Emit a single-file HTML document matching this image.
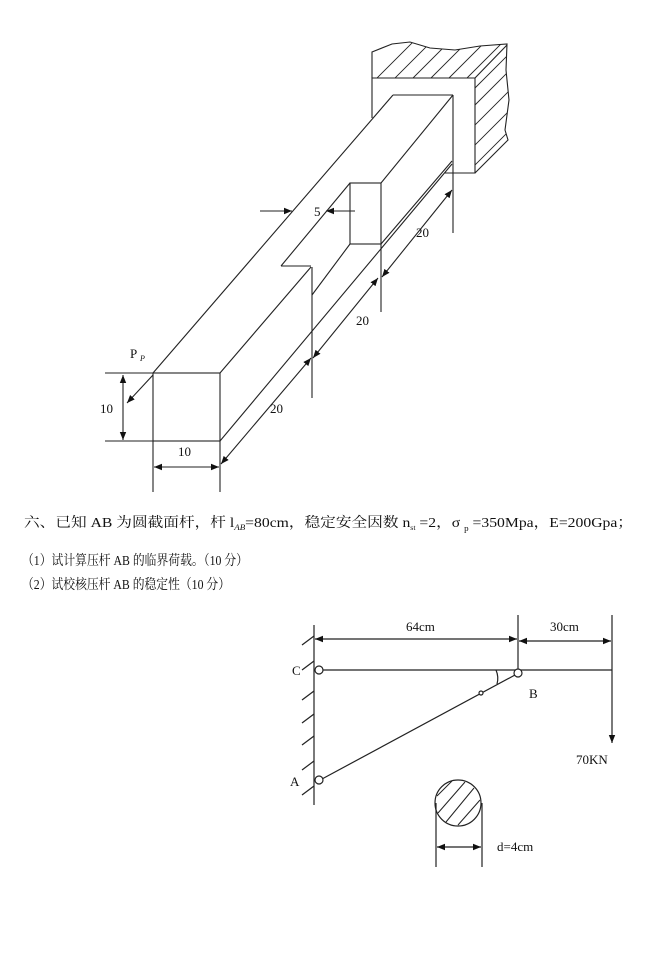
<!DOCTYPE html>
<html><head><meta charset="utf-8"><style>
html,body{margin:0;padding:0;background:#fff;}
svg{display:block;}
text{font-family:"Liberation Serif","Noto Serif CJK SC",serif;fill:#111;}
</style></head><body>
<svg width="647" height="966" viewBox="0 0 647 966" xmlns="http://www.w3.org/2000/svg">
<defs>
<marker id="a" viewBox="0 0 10 10" refX="10" refY="5" markerWidth="8" markerHeight="8" orient="auto-start-reverse" markerUnits="userSpaceOnUse"><path d="M0,1 L10,5 L0,9 z" fill="#111"/></marker>
<clipPath id="c1"><polygon points="372,78 372,52 392,44 410,42 430,48 455,50 480,46 507,44 506,70 509,100 505,130 508,140 475,173 475,78"/></clipPath>
</defs>
<g stroke="#222" stroke-width="1.1" fill="none">
<g clip-path="url(#c1)" stroke-width="0.9">
<line x1="360" y1="95" x2="420" y2="35"/><line x1="378" y1="95" x2="438" y2="35"/><line x1="396" y1="95" x2="456" y2="35"/><line x1="414" y1="95" x2="474" y2="35"/><line x1="432" y1="95" x2="492" y2="35"/><line x1="450" y1="95" x2="510" y2="35"/><line x1="468" y1="95" x2="528" y2="35"/>
<line x1="470" y1="110" x2="520" y2="60"/><line x1="470" y1="130" x2="520" y2="80"/><line x1="470" y1="150" x2="520" y2="100"/><line x1="470" y1="170" x2="520" y2="120"/><line x1="470" y1="190" x2="520" y2="140"/>
</g>
<polyline points="372,118 372,78 475,78 475,173 445,173"/>
<polyline points="372,78 372,52 392,44 410,42 430,48 455,50 480,46 507,44 506,70 509,100 505,130 508,140 475,173"/>
<line x1="475" y1="78" x2="507" y2="45"/>
<rect x="153" y="373" width="67" height="68"/>
<line x1="153" y1="373" x2="393" y2="95"/>
<line x1="393" y1="95" x2="453" y2="95"/>
<line x1="453" y1="95" x2="453" y2="233"/>
<line x1="220" y1="373" x2="311" y2="267"/>
<line x1="311" y1="266" x2="281" y2="266"/>
<line x1="281" y1="266" x2="350" y2="183"/>
<rect x="350" y="183" width="31" height="61"/>
<line x1="381" y1="183" x2="453" y2="95"/>
<line x1="312" y1="267" x2="312" y2="398"/>
<line x1="312" y1="295" x2="350" y2="244"/>
<line x1="381" y1="244" x2="381" y2="312"/>
<line x1="381" y1="244" x2="452" y2="161"/>
<line x1="220" y1="441" x2="452" y2="164"/>
<line x1="153" y1="441" x2="153" y2="492"/><line x1="220" y1="441" x2="220" y2="492"/>
<line x1="105" y1="373" x2="153" y2="373"/><line x1="105" y1="441" x2="153" y2="441"/>
<line x1="123" y1="375" x2="123" y2="440" marker-start="url(#a)" marker-end="url(#a)"/>
<line x1="154" y1="467" x2="219" y2="467" marker-start="url(#a)" marker-end="url(#a)"/>
<line x1="153" y1="375" x2="127" y2="403" marker-end="url(#a)"/>
<line x1="260" y1="211" x2="292" y2="211" marker-end="url(#a)"/>
<line x1="355" y1="211" x2="326" y2="211" marker-end="url(#a)"/>
<line x1="221" y1="464" x2="311" y2="358" marker-start="url(#a)" marker-end="url(#a)"/>
<line x1="313" y1="358" x2="378" y2="278" marker-start="url(#a)" marker-end="url(#a)"/>
<line x1="382" y1="277" x2="452" y2="190" marker-start="url(#a)" marker-end="url(#a)"/>
</g>
<g font-size="13">
<text x="130" y="358">P</text><text x="140" y="361" font-size="8" font-style="italic">P</text>
<text x="100" y="413">10</text>
<text x="178" y="456">10</text>
<text x="314" y="216">5</text>
<text x="270" y="413">20</text>
<text x="356" y="325">20</text>
<text x="416" y="237">20</text>
</g>
<g font-size="14">
<text x="24" y="527" textLength="609" lengthAdjust="spacingAndGlyphs">六、已知 AB 为圆截面杆，杆 l<tspan font-size="8" font-style="italic" dy="3">AB</tspan><tspan dy="-3">=80cm，稳定安全因数 n</tspan><tspan font-size="7" dy="3">st</tspan><tspan dy="-3"> =2，σ </tspan><tspan font-size="8" dy="4">p</tspan><tspan dy="-4"> =350Mpa，E=200Gpa；</tspan></text>
<text x="22" y="565" textLength="226" lengthAdjust="spacingAndGlyphs">（1）试计算压杆 AB 的临界荷载。（10 分）</text>
<text x="22" y="589" textLength="208" lengthAdjust="spacingAndGlyphs">（2）试校核压杆 AB 的稳定性（10 分）</text>
</g>
<g stroke="#222" stroke-width="1.2" fill="none">
<line x1="314" y1="625" x2="314" y2="805"/>
<line x1="302" y1="645" x2="314" y2="636"/><line x1="302" y1="670" x2="314" y2="661"/><line x1="302" y1="700" x2="314" y2="691"/><line x1="302" y1="723" x2="314" y2="714"/><line x1="302" y1="745" x2="314" y2="736"/><line x1="302" y1="770" x2="314" y2="761"/><line x1="302" y1="795" x2="314" y2="786"/>
<line x1="323" y1="670" x2="612" y2="670"/>
<line x1="322" y1="779" x2="515" y2="675"/>
<circle cx="319" cy="670" r="4" fill="#fff"/>
<circle cx="319" cy="780" r="4" fill="#fff"/>
<circle cx="518" cy="673" r="4" fill="#fff"/>
<circle cx="481" cy="693" r="2" fill="#fff"/>
<path d="M496 670 Q499 677 497 684"/>
<line x1="518" y1="615" x2="518" y2="669"/>
<line x1="612" y1="615" x2="612" y2="743" marker-end="url(#a)"/>
<line x1="315" y1="639" x2="517" y2="639" marker-start="url(#a)" marker-end="url(#a)"/>
<line x1="519" y1="641" x2="611" y2="641" marker-start="url(#a)" marker-end="url(#a)"/>
<circle cx="458" cy="803" r="23"/>
<line x1="436" y1="803" x2="436" y2="867"/><line x1="482" y1="803" x2="482" y2="867"/>
<line x1="437" y1="847" x2="481" y2="847" marker-start="url(#a)" marker-end="url(#a)"/>
<g stroke-width="1">
<line x1="437" y1="796" x2="452" y2="781"/><line x1="438" y1="813" x2="465" y2="782"/><line x1="446" y1="822" x2="474" y2="788"/><line x1="458" y1="825" x2="480" y2="800"/>
</g>
</g>
<g font-size="13">
<text x="406" y="631">64cm</text>
<text x="550" y="631">30cm</text>
<text x="292" y="675">C</text>
<text x="529" y="698">B</text>
<text x="290" y="786">A</text>
<text x="576" y="764">70KN</text>
<text x="497" y="851">d=4cm</text>
</g>
</svg>
</body></html>
